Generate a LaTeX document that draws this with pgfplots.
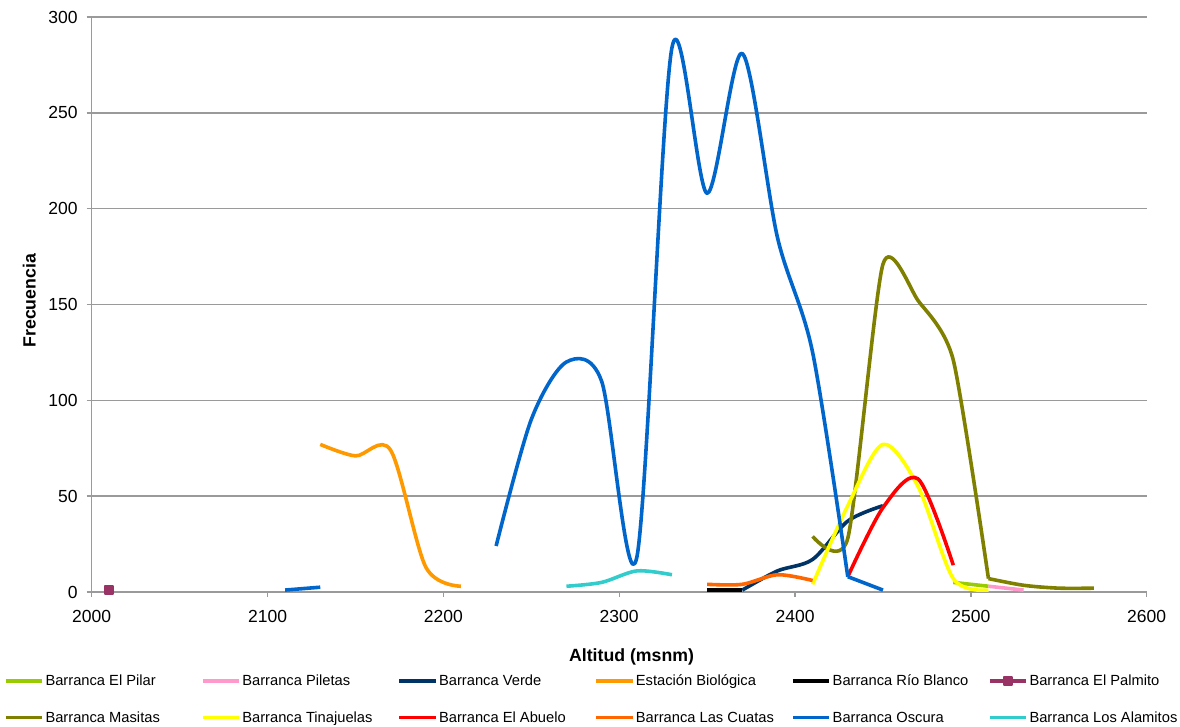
\documentclass[border=0pt]{standalone}
\usepackage{pgfplots}
\pgfplotsset{compat=1.18}
\usepackage{fontspec}
\setmainfont{Liberation Sans}

% series colours
\definecolor{cPilar}{HTML}{99CC00}
\definecolor{cPiletas}{HTML}{FF99CC}
\definecolor{cVerde}{HTML}{003366}
\definecolor{cEstacion}{HTML}{FF9900}
\definecolor{cRio}{HTML}{000000}
\definecolor{cPalmito}{HTML}{993366}
\definecolor{cMasitas}{HTML}{808000}
\definecolor{cTina}{HTML}{FFFF00}
\definecolor{cAbuelo}{HTML}{FF0000}
\definecolor{cCuatas}{HTML}{FF6600}
\definecolor{cOscura}{HTML}{0066CC}
\definecolor{cAlamitos}{HTML}{33CCCC}
\definecolor{gridgray}{HTML}{9A9A9A}

\newcommand{\lgd}[1]{\makebox[75.6pt][l]{#1}}

\begin{document}
\begin{tikzpicture}
\path[use as bounding box] (-45.85pt,-67.5pt) rectangle (544.15pt,296pt);
\begin{axis}[
  at={(0pt,0pt)}, anchor=south west,
  scale only axis, width=527.5pt, height=287.5pt,
  xmin=2000, xmax=2600, ymin=0, ymax=300,
  xtick distance=100, ytick distance=50,
  scaled x ticks=false, scaled y ticks=false,
  /pgf/number format/1000 sep={},
  /pgf/number format/assume math mode=true,
  ticklabel style={font=\fontsize{8.75}{10}\selectfont},
  xticklabel style={yshift=-3pt},
  yticklabel style={xshift=-1pt},
  axis x line*=bottom, axis y line*=left,
  axis line style={gridgray, line width=0.7pt, -},
  tick align=outside, major tick length=2.5pt,
  tick style={gridgray, line width=0.7pt},
  ymajorgrids, grid style={gridgray, line width=0.7pt},
  xlabel={\bfseries Altitud (msnm)},
  ylabel={\bfseries Frecuencia},
  label style={font=\fontsize{8.85}{10}\selectfont},
  xlabel style={at={(axis description cs:0.5117,-0.113)}, anchor=center},
  ylabel style={at={(axis description cs:-0.0592,0.5066)}, anchor=center},
  every axis plot/.append style={line width=1.8pt, smooth, tension=0.5, line join=round},
  legend columns=6,
  legend cell align=left,
  legend image code/.code={\draw[mark repeat=2,mark phase=2,#1] plot coordinates {(0pt,0pt) (9pt,0pt) (18pt,0pt)};},
  legend style={
    at={(axis description cs:-0.0832,-0.1426)}, anchor=north west,
    draw=none, fill=none, inner sep=0pt, outer sep=0pt,
    row sep=11.3pt,
    font=\fontsize{7.35}{8}\selectfont,
    nodes={inner sep=0pt, text height=6pt, text depth=1pt},
    /tikz/every odd column/.append style={column sep=1pt},
    /tikz/every even column/.append style={column sep=2pt},
  },
]
% Barranca El Pilar
\addplot[cPilar] coordinates {(2490,5) (2510,3)};
\addlegendentry{\lgd{Barranca El Pilar}}
% Barranca Piletas
\addplot[cPiletas] coordinates {(2510,3) (2530,1)};
\addlegendentry{\lgd{Barranca Piletas}}
% Barranca Verde
\addplot[cVerde] coordinates {(2370,1) (2390,11) (2410,17) (2430,37) (2450,45)};
\addlegendentry{\lgd{Barranca Verde}}
% Estación Biológica
\addplot[cEstacion] coordinates {(2130,77) (2150,71) (2170,74) (2190,13) (2210,3)};
\addlegendentry{\lgd{Estación Biológica}}
% Barranca Río Blanco
\addplot[cRio] coordinates {(2350,1) (2370,1)};
\addlegendentry{\lgd{Barranca Río Blanco}}
% Barranca El Palmito
\addplot[cPalmito, mark=square*, mark size=2pt, mark options={solid, line width=1pt}] coordinates {(2010,1)};
\addlegendentry{\lgd{Barranca El Palmito}}
% Barranca Masitas (flat tail drawn on its own so the steep drop does not overshoot)
\addplot[cMasitas, tension=0.4] coordinates {(2410,29) (2430,28) (2450,171) (2470,152) (2490,121) (2510,7)};
\addlegendentry{\lgd{Barranca Masitas}}
\addplot[cMasitas, forget plot] coordinates {(2510,7) (2530,3.5) (2550,2) (2570,2)};
% Barranca Tinajuelas
\addplot[cTina] coordinates {(2410,4) (2430,45) (2450,77) (2470,55) (2490,7) (2510,1)};
\addlegendentry{\lgd{Barranca Tinajuelas}}
% Barranca El Abuelo
\addplot[cAbuelo] coordinates {(2430,8) (2450,44) (2470,59) (2490,14)};
\addlegendentry{\lgd{Barranca El Abuelo}}
% Barranca Las Cuatas
\addplot[cCuatas] coordinates {(2350,4) (2370,4) (2390,9) (2410,6)};
\addlegendentry{\lgd{Barranca Las Cuatas}}
% Barranca Oscura (separate runs of data)
\addplot[cOscura] coordinates {(2230,24) (2250,90) (2270,120) (2290,110) (2310,18) (2330,284) (2350,208) (2370,281) (2390,185) (2410,125) (2430,8)};
\addlegendentry{\lgd{Barranca Oscura}}
\addplot[cOscura, forget plot] coordinates {(2430,8) (2450,1)};
\addplot[cOscura, forget plot] coordinates {(2110,1) (2130,2.5)};
% Barranca Los Alamitos
\addplot[cAlamitos] coordinates {(2270,3) (2290,5) (2310,11) (2330,9)};
\addlegendentry{\lgd{Barranca Los Alamitos}}
\end{axis}
\end{tikzpicture}
\end{document}
